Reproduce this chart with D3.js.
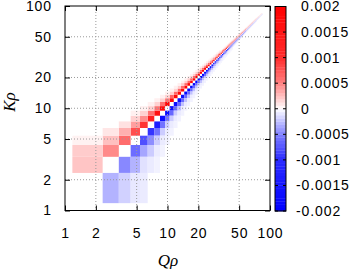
<!DOCTYPE html>
<meta charset="utf-8">
<style>
body { margin: 0; background: #fff; }
text { font-family: "Liberation Sans", Arial, sans-serif; font-size: 14px; fill: #000; letter-spacing: 0.9px; }
.lab { font-family: "Liberation Serif", "Times New Roman", serif; font-style: italic; font-size: 17px; letter-spacing: 0; }
.grid line { stroke: #9a9a9a; stroke-width: 1; stroke-dasharray: 1,2; }
</style>
<svg width="354" height="269"></svg>
<script src="https://cdnjs.cloudflare.com/ajax/libs/d3/7.8.5/d3.min.js"></script>
<script>
"use strict";

// sample grid of Q rho (same for K rho): first cell edge, then uniform step
var gridFirst = 1.18, gridStart = 2.33, gridStep = 1.02, nCells = 82;

var xTicks = [1, 2, 5, 10, 20, 50, 100];
var yTicks = [1, 2, 5, 10, 20, 50, 100];
var gridTicks = [2, 5, 10, 20, 50];
var cbTicks = [0.002, 0.0015, 0.001, 0.0005, 0, -0.0005, -0.001, -0.0015, -0.002];
var cbLabels = ["0.002", "0.0015", "0.001", "0.0005", "0", "-0.0005", "-0.001", "-0.0015", "-0.002"];

// runs along the diagonal: [first column, last column, value], band = row - column
var bandP1 = [[0,0,0.00023],[1,1,0.00046],[2,2,0.00062],[3,3,0.00079],[4,4,0.00095],[5,5,0.0013],[6,6,0.0016],
  [7,12,0.0018],[13,24,0.0019],[25,35,0.0014],[36,45,0.00088],[46,55,0.00058],[56,65,0.0004],[66,75,0.00028],[76,80,0.00018]];
var bandP2 = [[0,0,0.0002],[1,1,0.00025],[2,2,0.00031],[3,3,0.00038],[4,4,0.00045],[5,8,0.00058],[9,25,0.00065],
  [26,40,0.0005],[41,55,0.00035],[56,70,0.0002],[71,79,0.0001]];
var bandP3 = [[0,0,0.00005],[1,1,0.0001],[2,2,0.00012],[3,10,0.00018],[11,30,0.0002],[31,50,0.0001],[51,70,0.00005]];
var bandP4 = [[3,30,0.00006]];
var bandM1 = [[1,1,-0.0003],[2,2,-0.00047],[3,3,-0.00062],[4,4,-0.00079],[5,5,-0.00095],[6,6,-0.0013],[7,12,-0.0017],
  [13,24,-0.0019],[25,35,-0.0014],[36,45,-0.00088],[46,55,-0.00058],[56,65,-0.0004],[66,75,-0.00028],[76,81,-0.00018]];
var bandM2 = [[2,2,-0.00018],[3,3,-0.0003],[4,4,-0.00035],[5,5,-0.00045],[6,8,-0.00058],[9,25,-0.00065],[26,40,-0.0005],
  [41,55,-0.00035],[56,70,-0.0002],[71,81,-0.0001]];
var bandM3 = [[3,3,-0.00009],[4,4,-0.00012],[5,10,-0.0002],[11,30,-0.00025],[31,50,-0.00012],[51,70,-0.00006]];
var bandM4 = [[4,40,-0.00008]];
var bandM5 = [[6,40,-0.00005]];

var bands = [[1,bandP1],[2,bandP2],[3,bandP3],[4,bandP4],[-1,bandM1],[-2,bandM2],[-3,bandM3],[-4,bandM4],[-5,bandM5]];

var edges = [gridFirst];
for (var n = 0; n < nCells; n++) edges.push(gridStart + n * gridStep);

var cells = [];
bands.forEach(function(b) {
  b[1].forEach(function(r) {
    for (var c = r[0]; c <= r[1]; c++) {
      var row = c + b[0];
      if (row >= 0 && row < nCells) cells.push({col: c, row: row, v: r[2]});
    }
  });
});

var svg = d3.select("svg");
var x = d3.scaleLog().domain([1, 100]).range([65, 270]);
var y = d3.scaleLog().domain([1, 100]).range([210.5, 6]);
var color = d3.scaleLinear()
  .domain([-0.002, -0.001, -0.0005, 0, 0.0005, 0.001, 0.002])
  .range(["#0000ff", "#2b2bff", "#8080ff", "#ffffff", "#ff8080", "#ff2b2b", "#ff0000"]);

var plot = svg.append("g");
plot.selectAll("rect").data(cells).enter().append("rect")
  .attr("x", function(d) { return x(edges[d.col]); })
  .attr("width", function(d) { return x(edges[d.col + 1]) - x(edges[d.col]); })
  .attr("y", function(d) { return y(edges[d.row + 1]); })
  .attr("height", function(d) { return y(edges[d.row]) - y(edges[d.row + 1]); })
  .attr("fill", function(d) { return color(d.v); });

// grid
var grid = svg.append("g").attr("class", "grid");
grid.selectAll(".gx").data(gridTicks).enter().append("line")
  .attr("x1", function(d) { return x(d); }).attr("x2", function(d) { return x(d); })
  .attr("y1", 6).attr("y2", 210.5);
grid.selectAll(".gy").data(gridTicks).enter().append("line")
  .attr("y1", function(d) { return y(d); }).attr("y2", function(d) { return y(d); })
  .attr("x1", 65).attr("x2", 270);

// axes
svg.append("g").attr("transform", "translate(0,210.5)")
  .call(d3.axisBottom(x).tickValues(xTicks).tickFormat(d3.format("d")).tickSizeInner(-5).tickSizeOuter(0).tickPadding(18));
svg.append("g").attr("transform", "translate(0,6)")
  .call(d3.axisTop(x).tickValues(xTicks).tickFormat("").tickSizeInner(-5).tickSizeOuter(0));
svg.append("g").attr("transform", "translate(65,0)")
  .call(d3.axisLeft(y).tickValues(yTicks).tickFormat(d3.format("d")).tickSizeInner(-5).tickSizeOuter(0).tickPadding(13));
svg.append("g").attr("transform", "translate(270,0)")
  .call(d3.axisRight(y).tickValues(yTicks).tickFormat("").tickSizeInner(-5).tickSizeOuter(0));
svg.selectAll(".domain").remove();
svg.selectAll(".tick line").attr("stroke", "#000");
svg.selectAll(".tick text").style("font-size", "14px").style("font-family", null).attr("fill", "#000");

svg.append("rect").attr("x", 65).attr("y", 6).attr("width", 205).attr("height", 204.5)
  .attr("fill", "none").attr("stroke", "#000");

// colour box
var cb = d3.scaleLinear().domain([-0.002, 0.002]).range([211, 6.5]);
var steps = d3.range(64).map(function(i) { return -0.002 + (i + 0.5) * 0.004 / 64; });
svg.append("g").selectAll("rect").data(steps).enter().append("rect")
  .attr("x", 275).attr("width", 11)
  .attr("y", function(d) { return cb(d + 0.002 / 64); })
  .attr("height", cb(0) - cb(0.004 / 64) + 0.3)
  .attr("fill", function(d) { return color(d); });
svg.append("rect").attr("x", 275).attr("y", 6.5).attr("width", 11).attr("height", 204.5)
  .attr("fill", "none").attr("stroke", "#000");
var cbt = svg.append("g");
cbt.selectAll(".l").data(cbTicks).enter().append("line")
  .attr("x1", 275).attr("x2", 278).attr("y1", function(d) { return cb(d); }).attr("y2", function(d) { return cb(d); })
  .attr("stroke", "#000");
cbt.selectAll(".r").data(cbTicks).enter().append("line")
  .attr("x1", 283).attr("x2", 286).attr("y1", function(d) { return cb(d); }).attr("y2", function(d) { return cb(d); })
  .attr("stroke", "#000");
cbt.selectAll("text").data(cbTicks).enter().append("text")
  .attr("x", function(d) { return d < 0 ? 296 : 301; })
  .attr("y", function(d) { return cb(d); })
  .attr("dy", "0.35em")
  .text(function(d, i) { return cbLabels[i]; });

// axis titles
svg.append("text").attr("class", "lab").attr("x", 168).attr("y", 266).attr("text-anchor", "middle")
  .text("Q\u03c1");
svg.append("text").attr("class", "lab").attr("text-anchor", "middle")
  .attr("transform", "translate(15,102) rotate(-90)")
  .text("K\u03c1");
</script>
